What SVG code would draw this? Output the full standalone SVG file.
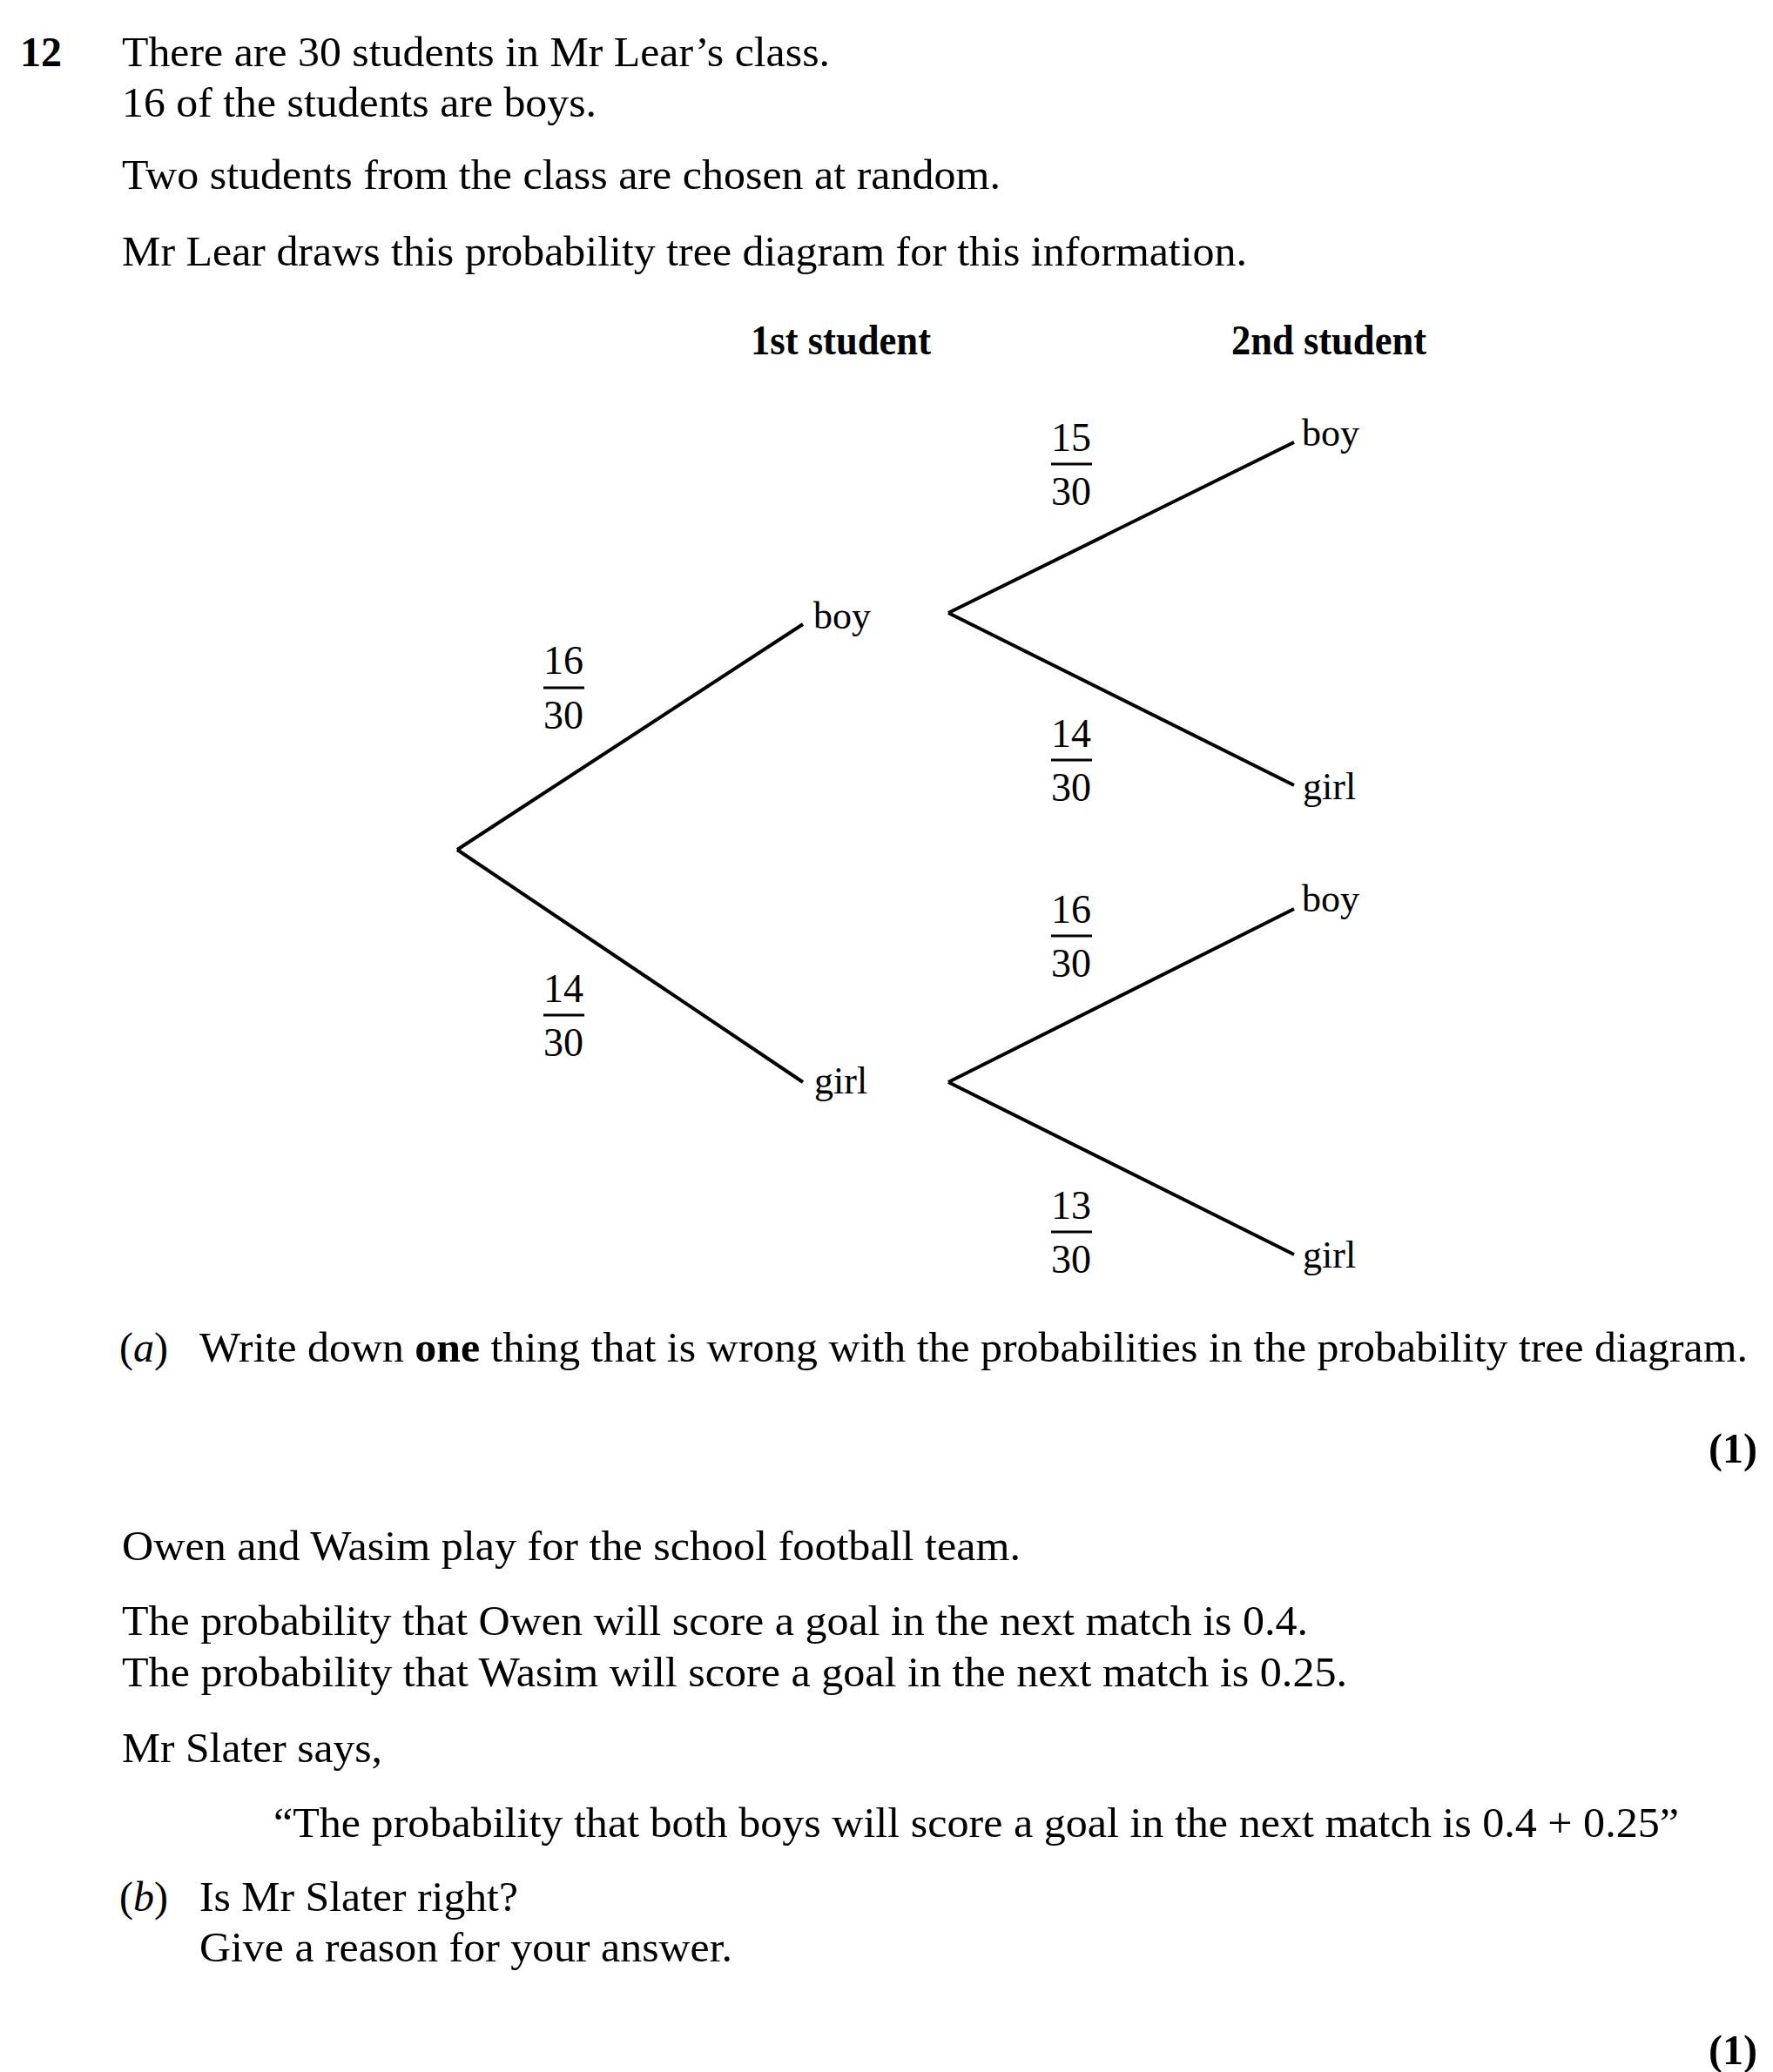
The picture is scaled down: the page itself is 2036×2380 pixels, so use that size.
<svg xmlns="http://www.w3.org/2000/svg" width="2036" height="2380" viewBox="0 0 2036 2380">
<style>
text{font-family:"Liberation Serif","Times New Roman",serif;font-size:48px;fill:#000}
.b{font-weight:bold}
.i{font-style:italic}
.lbl{font-size:44px}
.fr{font-size:46px;text-anchor:middle}
.br{stroke:#000;stroke-width:4;fill:none;stroke-linecap:butt}
.bar{stroke:#000;stroke-width:3}
</style>
<rect width="2036" height="2380" fill="#fff"/>
<g id="question">
<text class="b" x="23" y="76">12</text>
<text x="140" y="76" textLength="813" lengthAdjust="spacingAndGlyphs">There are 30 students in Mr Lear’s class.</text>
<text x="140" y="134" textLength="545" lengthAdjust="spacingAndGlyphs">16 of the students are boys.</text>
<text x="140" y="217" textLength="1009" lengthAdjust="spacingAndGlyphs">Two students from the class are chosen at random.</text>
<text x="140" y="305" textLength="1292" lengthAdjust="spacingAndGlyphs">Mr Lear draws this probability tree diagram for this information.</text>
</g>
<g id="headers">
<text class="b" x="862" y="407" textLength="207" lengthAdjust="spacingAndGlyphs">1st student</text>
<text class="b" x="1414" y="407" textLength="224" lengthAdjust="spacingAndGlyphs">2nd student</text>
</g>
<g id="connectors">
<line class="br" x1="525" y1="976" x2="922" y2="717"/>
<line class="br" x1="525" y1="976" x2="922" y2="1243"/>
<line class="br" x1="1089" y1="704" x2="1486" y2="508"/>
<line class="br" x1="1089" y1="704" x2="1486" y2="902"/>
<line class="br" x1="1089" y1="1243" x2="1486" y2="1044"/>
<line class="br" x1="1089" y1="1243" x2="1486" y2="1441"/>
</g>
<g id="node-boy1"><text class="lbl" x="934" y="722">boy</text></g>
<g id="node-girl1"><text class="lbl" x="935" y="1256">girl</text></g>
<g id="node-boy-boy"><text class="lbl" x="1495" y="512">boy</text></g>
<g id="node-boy-girl"><text class="lbl" x="1496" y="918">girl</text></g>
<g id="node-girl-boy"><text class="lbl" x="1495" y="1047">boy</text></g>
<g id="node-girl-girl"><text class="lbl" x="1496" y="1456">girl</text></g>
<g id="frac-16-30-a">
<text class="fr" x="647" y="774">16</text><line class="bar" x1="624" y1="790" x2="671" y2="790"/><text class="fr" x="647" y="837">30</text>
</g>
<g id="frac-14-30-a">
<text class="fr" x="647" y="1151">14</text><line class="bar" x1="624" y1="1166" x2="671" y2="1166"/><text class="fr" x="647" y="1213">30</text>
</g>
<g id="frac-15-30">
<text class="fr" x="1230" y="518">15</text><line class="bar" x1="1207" y1="533" x2="1254" y2="533"/><text class="fr" x="1230" y="580">30</text>
</g>
<g id="frac-14-30-b">
<text class="fr" x="1230" y="858">14</text><line class="bar" x1="1207" y1="873" x2="1254" y2="873"/><text class="fr" x="1230" y="920">30</text>
</g>
<g id="frac-16-30-b">
<text class="fr" x="1230" y="1060">16</text><line class="bar" x1="1207" y1="1075" x2="1254" y2="1075"/><text class="fr" x="1230" y="1122">30</text>
</g>
<g id="frac-13-30">
<text class="fr" x="1230" y="1400">13</text><line class="bar" x1="1207" y1="1415" x2="1254" y2="1415"/><text class="fr" x="1230" y="1462">30</text>
</g>
<g id="part-a">
<text x="137" y="1564">(<tspan class="i">a</tspan>)</text>
<text x="229" y="1564" textLength="1778" lengthAdjust="spacingAndGlyphs">Write down <tspan class="b">one</tspan> thing that is wrong with the probabilities in the probability tree diagram.</text>
<text class="b" x="1962" y="1680" textLength="56" lengthAdjust="spacingAndGlyphs">(1)</text>
</g>
<g id="part-b">
<text x="140" y="1792" textLength="1032" lengthAdjust="spacingAndGlyphs">Owen and Wasim play for the school football team.</text>
<text x="140" y="1878" textLength="1362" lengthAdjust="spacingAndGlyphs">The probability that Owen will score a goal in the next match is 0.4.</text>
<text x="140" y="1937" textLength="1407" lengthAdjust="spacingAndGlyphs">The probability that Wasim will score a goal in the next match is 0.25.</text>
<text x="140" y="2024" textLength="299" lengthAdjust="spacingAndGlyphs">Mr Slater says,</text>
<text x="314" y="2110" textLength="1614" lengthAdjust="spacingAndGlyphs">“The probability that both boys will score a goal in the next match is 0.4 + 0.25”</text>
<text x="137" y="2195">(<tspan class="i">b</tspan>)</text>
<text x="229" y="2195" textLength="366" lengthAdjust="spacingAndGlyphs">Is Mr Slater right?</text>
<text x="229" y="2253" textLength="612" lengthAdjust="spacingAndGlyphs">Give a reason for your answer.</text>
<text class="b" x="1962" y="2371" textLength="56" lengthAdjust="spacingAndGlyphs">(1)</text>
</g>
</svg>
